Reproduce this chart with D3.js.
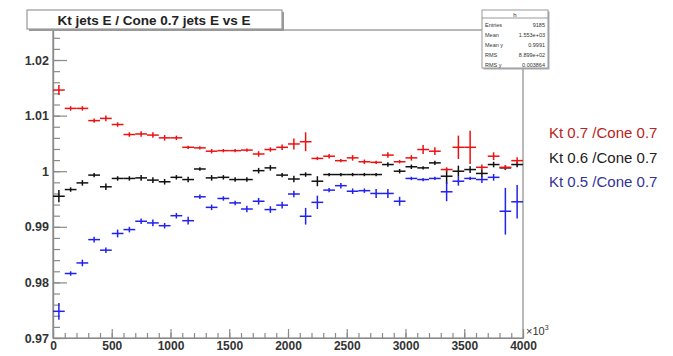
<!DOCTYPE html>
<html><head><meta charset="utf-8">
<script src="https://cdn.jsdelivr.net/npm/d3@7"></script>
<style>
html,body{margin:0;padding:0;background:#fff;}
svg{display:block;}
</style></head>
<body>
<svg id="c" width="673" height="356"></svg>
<script>
// ---- data ----
const energy = [50,150,250,350,450,550,650,750,850,950,1050,1150,1250,1350,1450,1550,1650,1750,1850,1950,
  2050,2150,2250,2350,2450,2550,2650,2750,2850,2950,3050,3150,3250,3350,3450,3550,3650,3750,3850,3950];
const kt07 = [1.0146,1.0113,1.0113,1.0091,1.0095,1.0084,1.0066,1.0067,1.0065,1.0060,1.0060,1.0043,1.0042,1.0036,1.0037,1.0037,1.0038,1.0031,1.0039,1.0043,
  1.0049,1.0053,1.0023,1.0027,1.0019,1.0024,1.0017,1.0016,1.0029,1.0017,1.0024,1.0039,1.0036,1.0003,1.0043,1.0043,1.0007,1.0027,1.0007,1.0019];
const kt07err = [0.0009,0.0004,0.0004,0.0004,0.0005,0.0004,0.0004,0.0005,0.0005,0.0005,0.0004,0.0003,0.0003,0.0004,0.0003,0.0003,0.0003,0.0005,0.0004,0.0005,
  0.0010,0.0017,0.0003,0.0004,0.0003,0.0005,0.0004,0.0003,0.0005,0.0003,0.0005,0.0008,0.0007,0.0004,0.0021,0.0030,0.0005,0.0007,0.0004,0.0006];
const kt06 = [0.9955,0.9967,0.9979,0.9993,0.9972,0.9987,0.9987,0.9988,0.9984,0.9981,0.9989,0.9985,1.0004,0.9988,0.9989,0.9985,0.9985,1.0001,1.0006,0.9993,
  0.9986,0.9994,0.9982,0.9994,0.9994,0.9994,0.9994,0.9994,1.0012,1.0000,1.0008,1.0006,1.0015,0.9991,1.0000,1.0003,0.9996,1.0012,1.0006,1.0012];
const kt06err = [0.0011,0.0004,0.0005,0.0004,0.0006,0.0004,0.0004,0.0005,0.0005,0.0005,0.0004,0.0005,0.0003,0.0005,0.0004,0.0004,0.0004,0.0005,0.0005,0.0004,
  0.0006,0.0004,0.0009,0.0003,0.0003,0.0003,0.0003,0.0003,0.0004,0.0004,0.0004,0.0003,0.0004,0.0014,0.0010,0.0006,0.0007,0.0005,0.0004,0.0005];
const kt05 = [0.9748,0.9816,0.9835,0.9877,0.9858,0.9888,0.9895,0.9910,0.9907,0.9902,0.9920,0.9911,0.9954,0.9935,0.9951,0.9943,0.9932,0.9946,0.9931,0.9939,
  0.9959,0.9919,0.9944,0.9966,0.9974,0.9964,0.9965,0.9960,0.9960,0.9946,0.9987,0.9985,0.9987,0.9963,0.9982,0.9987,0.9985,0.9989,0.9928,0.9945];
const kt05err = [0.0015,0.0004,0.0006,0.0005,0.0005,0.0007,0.0005,0.0005,0.0006,0.0005,0.0005,0.0007,0.0004,0.0005,0.0004,0.0004,0.0006,0.0006,0.0006,0.0006,
  0.0006,0.0015,0.0012,0.0004,0.0005,0.0005,0.0004,0.0008,0.0008,0.0008,0.0003,0.0003,0.0003,0.0017,0.0008,0.0003,0.0006,0.0006,0.0042,0.0030];
const binHalfWidth = 50;
const xTickValues = [0,500,1000,1500,2000,2500,3000,3500,4000];
const xTickLabels = ["0","500","1000","1500","2000","2500","3000","3500","4000"];
const yTickValues = [0.97,0.98,0.99,1.00,1.01,1.02];
const yTickLabels = ["0.97","0.98","0.99","1","1.01","1.02"];
const seriesNames = ["Kt 0.7 /Cone 0.7","Kt 0.6 /Cone 0.7","Kt 0.5 /Cone 0.7"];
const titleText = "Kt jets E / Cone 0.7 jets E vs E";
const statsNames = ["Entries","Mean","Mean y","RMS","RMS y"];
const statsValues = ["9185","1.553e+03","0.9991","8.899e+02","0.003864"];

// ---- layout ----
const svg = d3.select("#c");
const L = 53, R = 523, T = 30, B = 338;
const x = d3.scaleLinear().domain([0,4000]).range([L,R]);
const y = d3.scaleLinear().domain([0.97,1.0254]).range([B,T]);
const axisCol = "#8a8a8a";

// frame
svg.append("rect").attr("x",L).attr("y",T).attr("width",R-L).attr("height",B-T)
  .attr("fill","none").attr("stroke",axisCol).attr("stroke-width",1.2);

// y axis
const yMinor = d3.range(0,28).map(i=>0.97+i*0.002).filter(v=>v<=1.0254);
const gyMinor = svg.append("g").attr("transform",`translate(${L},0)`)
  .call(d3.axisLeft(y).tickValues(yMinor).tickFormat("").tickSizeInner(-7).tickSizeOuter(0));
const gy = svg.append("g").attr("transform",`translate(${L},0)`)
  .call(d3.axisLeft(y).tickValues(yTickValues).tickFormat((d,i)=>yTickLabels[i]).tickSizeInner(-14).tickSizeOuter(0).tickPadding(4));
[gyMinor,gy].forEach(g=>{g.select(".domain").attr("stroke",axisCol).attr("stroke-width",1.2);
  g.selectAll(".tick line").attr("stroke",axisCol).attr("stroke-width",1.2);});
gy.selectAll(".tick text").attr("font-family","'Liberation Sans',Arial,sans-serif")
  .attr("font-size",12.5).attr("font-weight","bold").attr("fill","#333");

// x axis
const xMinor = d3.range(0,41).map(i=>i*100);
const gxMinor = svg.append("g").attr("transform",`translate(0,${B})`)
  .call(d3.axisBottom(x).tickValues(xMinor).tickFormat("").tickSizeInner(-5).tickSizeOuter(0));
const gx = svg.append("g").attr("transform",`translate(0,${B})`)
  .call(d3.axisBottom(x).tickValues(xTickValues).tickFormat((d,i)=>xTickLabels[i]).tickSizeInner(-9).tickSizeOuter(0).tickPadding(3));
[gxMinor,gx].forEach(g=>{g.select(".domain").attr("stroke",axisCol).attr("stroke-width",1.2);
  g.selectAll(".tick line").attr("stroke",axisCol).attr("stroke-width",1.2);});
gx.selectAll(".tick text").attr("font-family","'Liberation Sans Narrow','Liberation Sans',Arial,sans-serif")
  .attr("font-size",12).attr("font-weight","bold").attr("fill","#333");

// x10^3
const xe = svg.append("text").attr("x",R+3).attr("y",B-3)
  .attr("font-family","'Liberation Sans Narrow','Liberation Sans',Arial,sans-serif").attr("font-size",11).attr("fill","#333");
xe.append("tspan").text("×10");
xe.append("tspan").attr("dy",-5).attr("font-size",7).text("3");

// series
const series = [
  {v:kt06, e:kt06err, c:"#111111"},
  {v:kt07, e:kt07err, c:"#ee1111"},
  {v:kt05, e:kt05err, c:"#2222ee"}
];
series.forEach(s=>{
  const g = svg.append("g").attr("stroke",s.c).attr("stroke-width",1.5).attr("fill","none");
  energy.forEach((E,i)=>{
    g.append("line").attr("x1",x(E-binHalfWidth)).attr("x2",x(E+binHalfWidth))
      .attr("y1",y(s.v[i])).attr("y2",y(s.v[i]));
    g.append("line").attr("x1",x(E)).attr("x2",x(E))
      .attr("y1",y(s.v[i]-s.e[i])).attr("y2",y(s.v[i]+s.e[i]));
  });
});

// title box
svg.append("rect").attr("x",29).attr("y",12).attr("width",255).attr("height",19).attr("fill","#999");
svg.append("rect").attr("x",27).attr("y",10).attr("width",255).attr("height",19)
  .attr("fill","#fff").attr("stroke","#999").attr("stroke-width",1.2);
svg.append("text").attr("x",154).attr("y",24.5).attr("text-anchor","middle")
  .attr("font-family","'Liberation Sans',Arial,sans-serif").attr("font-size",13.5).attr("font-weight","bold")
  .attr("fill","#222").text(titleText);

// stats box
const sx=482, sy=10, sw=66, sh=58;
svg.append("rect").attr("x",sx+1.5).attr("y",sy+1.5).attr("width",sw).attr("height",sh).attr("fill","#aaa");
svg.append("rect").attr("x",sx).attr("y",sy).attr("width",sw).attr("height",sh).attr("fill","#fff")
  .attr("stroke","#999").attr("stroke-width",1);
svg.append("line").attr("x1",sx).attr("x2",sx+sw).attr("y1",sy+8).attr("y2",sy+8).attr("stroke","#999");
svg.append("text").attr("x",sx+sw/2).attr("y",sy+7).attr("text-anchor","middle")
  .attr("font-family","'Liberation Sans',Arial,sans-serif").attr("font-size",6).attr("fill","#333").text("h");
statsNames.forEach((n,i)=>{
  const yy = sy+17+i*10;
  svg.append("text").attr("x",sx+3).attr("y",yy).attr("font-family","'Liberation Sans',Arial,sans-serif")
    .attr("font-size",5.5).attr("fill","#333").text(n);
  svg.append("text").attr("x",sx+sw-3).attr("y",yy).attr("text-anchor","end").attr("font-family","'Liberation Sans',Arial,sans-serif")
    .attr("font-size",5.5).attr("fill","#333").text(statsValues[i]);
});

// legend
const legCols = ["#bb2222","#222222","#333399"];
seriesNames.forEach((n,i)=>{
  svg.append("text").attr("x",549).attr("y",138+i*24.5)
    .attr("font-family","'Liberation Sans',Arial,sans-serif").attr("font-size",15)
    .attr("fill",legCols[i]).text(n);
});
</script>
</body></html>
